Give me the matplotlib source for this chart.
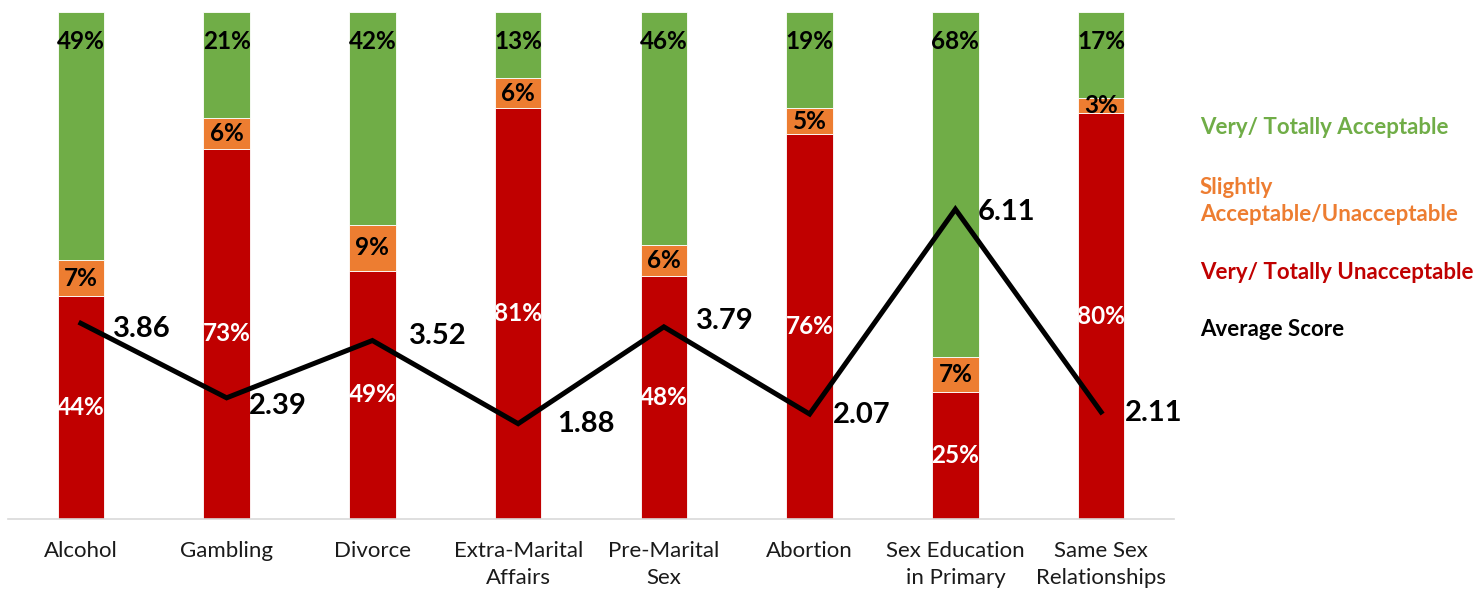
import matplotlib
matplotlib.use("Agg")
import matplotlib.pyplot as plt
import numpy as np

categories = ["Alcohol", "Gambling", "Divorce", "Extra-Marital\nAffairs",
              "Pre-Marital\nSex", "Abortion", "Sex Education\nin Primary",
              "Same Sex\nRelationships"]
unacceptable = [44, 73, 49, 81, 48, 76, 25, 80]
slightly = [7, 6, 9, 6, 6, 5, 7, 3]
acceptable = [49, 21, 42, 13, 46, 19, 68, 17]
average_score = [3.86, 2.39, 3.52, 1.88, 3.79, 2.07, 6.11, 2.11]

legend_labels = ["Very/ Totally Acceptable", "Slightly\nAcceptable/Unacceptable",
                 "Very/ Totally Unacceptable", "Average Score"]

GREEN = "#70AD47"
ORANGE = "#ED7D31"
RED = "#C00000"

plt.rcParams["font.family"] = ["Lato", "DejaVu Sans"]

fig = plt.figure(figsize=(14.75, 5.9), dpi=100)
ax = fig.add_axes([8 / 1475, 1 - 519 / 590, (1174 - 8) / 1475, (519 - 12) / 590])

x = np.arange(len(categories))
w = 0.32
un = np.array(unacceptable)
sl = np.array(slightly)
ac = np.array(acceptable)

ax.bar(x, un, w, color=RED, edgecolor="white", linewidth=0.6, zorder=2)
ax.bar(x, sl, w, bottom=un, color=ORANGE, edgecolor="white", linewidth=0.6, zorder=2)
ax.bar(x, ac, w, bottom=un + sl, color=GREEN, edgecolor="white", linewidth=0.6, zorder=2)

ax.set_xlim(-0.5, len(categories) - 0.5)
ax.set_ylim(0, 100)
ax.set_yticks([])
for s in ["left", "right", "top"]:
    ax.spines[s].set_visible(False)
ax.spines["bottom"].set_color("#D9D9D9")
ax.spines["bottom"].set_linewidth(1.2)
ax.set_xticks(x)
ax.set_xticklabels(categories, fontsize=16, color="#1a1a1a", linespacing=1.45)
ax.tick_params(axis="x", length=0, pad=16)

pct_fs = 17.5
for i in range(len(categories)):
    # red segment: centred, white
    ax.text(x[i], un[i] / 2, f"{un[i]}%", ha="center", va="center",
            color="white", fontsize=pct_fs, fontweight="bold", zorder=4)
    # orange segment: centred, black
    ax.text(x[i], un[i] + sl[i] / 2, f"{sl[i]}%", ha="center", va="center",
            color="black", fontsize=pct_fs, fontweight="bold", zorder=4)
    # green segment: inside end, black
    ax.annotate(f"{ac[i]}%", xy=(x[i], 100), xytext=(0, -21.5),
                textcoords="offset points", ha="center", va="center",
                color="black", fontsize=pct_fs, fontweight="bold", zorder=4)

ax2 = ax.twinx()
ax2.set_ylim(0, 10)
ax2.axis("off")
ax2.plot(x, average_score, color="black", linewidth=3.6, zorder=5,
         solid_joinstyle="miter")

label_offsets = [(23, -4), (16, -6), (26, 3), (28, 0), (23, 4), (17, -1), (16, -2), (17, -1)]
for i, v in enumerate(average_score):
    dx, dy = label_offsets[i]
    ax2.annotate(f"{v:.2f}", xy=(x[i], v), xytext=(dx, dy),
                 textcoords="offset points", ha="left", va="center",
                 color="black", fontsize=21, fontweight="bold")

legend_colors = [GREEN, ORANGE, RED, "black"]
legend_y = [128, 201, 272, 330]
for lab, col, yy in zip(legend_labels, legend_colors, legend_y):
    fig.text(1200 / 1475, 1 - yy / 590, lab, color=col, fontsize=16,
             fontweight="bold", ha="left", va="center", linespacing=1.35)

fig.savefig("out.png", dpi=100)
